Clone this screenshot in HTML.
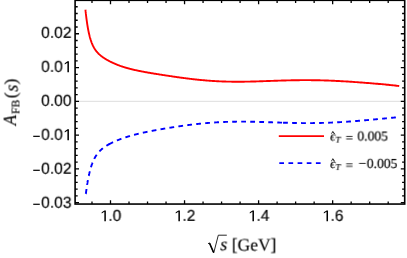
<!DOCTYPE html>
<html><head><meta charset="utf-8"><style>
html,body{margin:0;padding:0;background:#fff;}
svg{display:block}
text{will-change:transform;text-rendering:geometricPrecision}
.tk text{font-family:"Liberation Sans",sans-serif;font-size:15.4px;fill:#000;stroke:#000;stroke-width:0.18px}
.sf{font-family:"Liberation Serif",serif;fill:#000;stroke:#000;stroke-width:0.15px}
</style></head><body>
<svg width="407" height="258" viewBox="0 0 407 258">
<rect width="407" height="258" fill="#fff"/>
<line x1="75.1" x2="404.7" y1="101.34" y2="101.34" stroke="#d0d0d0" stroke-width="0.7"/>
<path d="M85.45 9.83 L85.45 9.84 L85.45 9.85 L85.45 9.87 L85.46 9.91 L85.46 9.96 L85.47 10.02 L85.48 10.09 L85.49 10.18 L85.50 10.28 L85.51 10.39 L85.52 10.52 L85.54 10.66 L85.55 10.82 L85.57 10.99 L85.59 11.18 L85.61 11.38 L85.64 11.60 L85.66 11.83 L85.69 12.08 L85.71 12.34 L85.74 12.61 L85.78 12.90 L85.81 13.20 L85.85 13.52 L85.88 13.85 L85.92 14.19 L85.96 14.54 L86.01 14.91 L86.05 15.29 L86.10 15.68 L86.14 16.09 L86.19 16.50 L86.25 16.93 L86.30 17.36 L86.36 17.81 L86.42 18.26 L86.48 18.73 L86.54 19.20 L86.60 19.68 L86.67 20.17 L86.73 20.67 L86.80 21.17 L86.88 21.68 L86.95 22.19 L87.03 22.72 L87.11 23.24 L87.19 23.77 L87.27 24.31 L87.35 24.84 L87.44 25.38 L87.53 25.93 L87.62 26.47 L87.71 27.02 L87.81 27.57 L87.90 28.12 L88.00 28.66 L88.10 29.21 L88.21 29.76 L88.31 30.31 L88.42 30.85 L88.53 31.40 L88.64 31.94 L88.76 32.48 L88.87 33.01 L88.99 33.55 L89.11 34.07 L89.24 34.60 L89.36 35.12 L89.49 35.64 L89.62 36.15 L89.75 36.66 L89.89 37.16 L90.02 37.66 L90.16 38.15 L90.30 38.63 L90.45 39.11 L90.59 39.59 L90.74 40.06 L90.89 40.52 L91.04 40.97 L91.20 41.42 L91.35 41.86 L91.51 42.30 L91.68 42.73 L91.84 43.15 L92.01 43.56 L92.18 43.97 L92.35 44.38 L92.52 44.77 L92.70 45.16 L92.87 45.54 L93.05 45.92 L93.24 46.29 L93.42 46.65 L93.61 47.01 L93.80 47.36 L93.99 47.70 L94.19 48.04 L94.39 48.37 L94.59 48.70 L94.79 49.02 L94.99 49.33 L95.20 49.64 L95.41 49.94 L95.62 50.24 L95.84 50.54 L96.05 50.82 L96.27 51.11 L96.49 51.39 L96.72 51.66 L96.94 51.93 L97.17 52.20 L97.40 52.46 L97.64 52.71 L97.88 52.97 L98.11 53.22 L98.36 53.46 L98.60 53.71 L98.85 53.95 L99.09 54.18 L99.35 54.41 L99.60 54.64 L99.86 54.87 L100.12 55.10 L100.38 55.32 L100.64 55.54 L100.91 55.75 L101.18 55.97 L101.45 56.18 L101.72 56.39 L102.00 56.60 L102.28 56.81 L102.56 57.01 L102.84 57.21 L103.13 57.41 L103.42 57.61 L103.71 57.81 L104.01 58.01 L104.30 58.20 L104.60 58.40 L104.91 58.59 L105.21 58.78 L105.52 58.97 L105.83 59.16 L106.14 59.35 L106.46 59.53 L106.77 59.72 L107.09 59.91 L107.42 60.09 L107.74 60.27 L108.07 60.45 L108.40 60.63 L108.74 60.81 L109.07 60.99 L109.41 61.17 L109.75 61.35 L110.10 61.52 L110.44 61.70 L110.79 61.87 L111.14 62.05 L111.50 62.22 L111.86 62.39 L112.22 62.56 L112.58 62.73 L112.94 62.90 L113.31 63.07 L113.68 63.24 L114.06 63.40 L114.43 63.57 L114.81 63.73 L115.19 63.89 L115.57 64.06 L115.96 64.22 L116.35 64.38 L116.74 64.54 L117.14 64.69 L117.54 64.85 L117.94 65.01 L118.34 65.16 L118.74 65.31 L119.15 65.47 L119.56 65.62 L119.98 65.77 L120.39 65.92 L120.81 66.06 L121.23 66.21 L121.66 66.35 L122.09 66.50 L122.52 66.64 L122.95 66.78 L123.38 66.92 L123.82 67.06 L124.26 67.20 L124.71 67.34 L125.15 67.47 L125.60 67.61 L126.06 67.74 L126.51 67.87 L126.97 68.01 L127.43 68.14 L127.89 68.26 L128.36 68.39 L128.83 68.52 L129.30 68.64 L129.77 68.77 L130.25 68.89 L130.73 69.01 L131.21 69.13 L131.70 69.25 L132.19 69.37 L132.68 69.49 L133.17 69.61 L133.67 69.72 L134.17 69.84 L134.67 69.95 L135.17 70.07 L135.68 70.18 L136.19 70.29 L136.71 70.40 L137.22 70.51 L137.74 70.62 L138.26 70.73 L138.79 70.84 L139.32 70.95 L139.85 71.05 L140.38 71.16 L140.92 71.26 L141.45 71.37 L142.00 71.47 L142.54 71.58 L143.09 71.68 L143.64 71.78 L144.19 71.89 L144.75 71.99 L145.31 72.09 L145.87 72.19 L146.43 72.29 L147.00 72.39 L147.57 72.49 L148.14 72.59 L148.72 72.69 L149.30 72.79 L149.88 72.89 L150.47 72.99 L151.05 73.09 L151.64 73.19 L152.24 73.29 L152.83 73.39 L153.43 73.49 L154.04 73.59 L154.64 73.69 L155.25 73.78 L155.86 73.88 L156.47 73.98 L157.09 74.08 L157.71 74.18 L158.33 74.28 L158.96 74.38 L159.58 74.48 L160.22 74.58 L160.85 74.68 L161.49 74.78 L162.13 74.88 L162.77 74.98 L163.42 75.08 L164.06 75.18 L164.72 75.28 L165.37 75.38 L166.03 75.48 L166.69 75.58 L167.35 75.68 L168.02 75.78 L168.69 75.88 L169.36 75.98 L170.04 76.08 L170.71 76.18 L171.39 76.28 L172.08 76.39 L172.77 76.49 L173.46 76.59 L174.15 76.69 L174.84 76.79 L175.54 76.89 L176.25 76.99 L176.95 77.09 L177.66 77.19 L178.37 77.29 L179.08 77.39 L179.80 77.49 L180.52 77.59 L181.24 77.69 L181.97 77.78 L182.70 77.88 L183.43 77.98 L184.16 78.08 L184.90 78.17 L185.64 78.27 L186.38 78.36 L187.13 78.46 L187.88 78.55 L188.63 78.65 L189.39 78.74 L190.15 78.83 L190.91 78.92 L191.67 79.01 L192.44 79.10 L193.21 79.19 L193.99 79.28 L194.76 79.37 L195.54 79.45 L196.33 79.54 L197.11 79.62 L197.90 79.70 L198.69 79.78 L199.49 79.86 L200.28 79.94 L201.09 80.02 L201.89 80.10 L202.70 80.17 L203.51 80.24 L204.32 80.32 L205.14 80.39 L205.96 80.46 L206.78 80.52 L207.60 80.59 L208.43 80.65 L209.26 80.72 L210.10 80.78 L210.94 80.84 L211.78 80.89 L212.62 80.95 L213.47 81.00 L214.32 81.05 L215.17 81.10 L216.03 81.15 L216.88 81.20 L217.75 81.24 L218.61 81.29 L219.48 81.33 L220.35 81.36 L221.23 81.40 L222.10 81.44 L222.98 81.47 L223.87 81.50 L224.75 81.53 L225.64 81.56 L226.54 81.58 L227.43 81.60 L228.33 81.62 L229.23 81.64 L230.14 81.66 L231.05 81.67 L231.96 81.69 L232.87 81.70 L233.79 81.71 L234.71 81.71 L235.64 81.72 L236.56 81.72 L237.49 81.72 L238.43 81.72 L239.36 81.72 L240.30 81.72 L241.25 81.71 L242.19 81.70 L243.14 81.69 L244.09 81.68 L245.05 81.67 L246.01 81.65 L246.97 81.64 L247.93 81.62 L248.90 81.60 L249.87 81.58 L250.84 81.56 L251.82 81.54 L252.80 81.51 L253.79 81.49 L254.77 81.46 L255.76 81.43 L256.75 81.40 L257.75 81.37 L258.75 81.34 L259.75 81.31 L260.76 81.28 L261.77 81.24 L262.78 81.21 L263.79 81.17 L264.81 81.14 L265.83 81.10 L266.86 81.07 L267.88 81.03 L268.91 81.00 L269.95 80.96 L270.99 80.92 L272.03 80.89 L273.07 80.85 L274.12 80.81 L275.16 80.78 L276.22 80.74 L277.27 80.70 L278.33 80.67 L279.40 80.63 L280.46 80.60 L281.53 80.57 L282.60 80.53 L283.68 80.50 L284.76 80.47 L285.84 80.44 L286.92 80.41 L288.01 80.38 L289.10 80.36 L290.20 80.33 L291.29 80.31 L292.39 80.29 L293.50 80.27 L294.61 80.25 L295.72 80.23 L296.83 80.21 L297.95 80.20 L299.07 80.18 L300.19 80.17 L301.32 80.16 L302.45 80.16 L303.58 80.15 L304.71 80.15 L305.85 80.15 L307.00 80.15 L308.14 80.15 L309.29 80.16 L310.44 80.17 L311.60 80.18 L312.76 80.19 L313.92 80.20 L315.08 80.22 L316.25 80.24 L317.42 80.26 L318.60 80.29 L319.78 80.31 L320.96 80.34 L322.14 80.38 L323.33 80.41 L324.52 80.45 L325.72 80.49 L326.91 80.53 L328.11 80.57 L329.32 80.62 L330.53 80.66 L331.74 80.72 L332.95 80.77 L334.17 80.82 L335.39 80.88 L336.61 80.94 L337.84 81.00 L339.07 81.07 L340.30 81.13 L341.54 81.20 L342.78 81.27 L344.02 81.35 L345.27 81.42 L346.52 81.50 L347.77 81.57 L349.03 81.65 L350.28 81.74 L351.55 81.82 L352.81 81.91 L354.08 81.99 L355.36 82.08 L356.63 82.17 L357.91 82.26 L359.19 82.36 L360.48 82.45 L361.77 82.55 L363.06 82.64 L364.36 82.74 L365.65 82.84 L366.96 82.94 L368.26 83.05 L369.57 83.15 L370.88 83.26 L372.20 83.37 L373.52 83.48 L374.84 83.59 L376.16 83.70 L377.49 83.81 L378.82 83.93 L380.16 84.05 L381.50 84.17 L382.84 84.29 L384.19 84.42 L385.53 84.54 L386.89 84.68 L388.24 84.81 L389.60 84.95 L390.96 85.09 L392.33 85.23 L393.69 85.38 L395.07 85.54 L396.44 85.70 L397.82 85.86 L399.20 86.04" fill="none" stroke="#f00" stroke-width="1.9" stroke-linejoin="round"/>
<path d="M85.86 193.76 L85.86 193.76 L85.86 193.76 L85.86 193.76 L85.86 193.75 L85.86 193.75 L85.86 193.75 L85.86 193.74 L85.86 193.73 L85.86 193.73 L85.87 193.72 L85.87 193.71 L85.87 193.70 L85.87 193.69 L85.87 193.67 L85.87 193.66 L85.87 193.65 L85.88 193.63 L85.88 193.61 L85.88 193.59 L85.88 193.57 L85.89 193.55 L85.89 193.53 L85.89 193.51 L85.90 193.48 L85.90 193.46 L85.90 193.43 L85.91 193.40 L85.91 193.37 L85.91 193.34 L85.92 193.31 L85.92 193.27 L85.93 193.24 L85.93 193.20 L85.94 193.16 L85.94 193.12 L85.95 193.08 L85.95 193.04 L85.96 193.00 L85.96 192.95 L85.97 192.91 L85.97 192.86 L85.98 192.81 L85.99 192.76 L85.99 192.71 L86.00 192.66 L86.01 192.61 L86.01 192.55 L86.02 192.50 L86.03 192.44 L86.04 192.38 L86.04 192.32 L86.05 192.26 L86.06 192.19 L86.07 192.13 L86.08 192.06 L86.09 192.00 L86.10 191.93 L86.10 191.86 L86.11 191.79 L86.12 191.71 L86.13 191.64 L86.14 191.56 L86.15 191.49 L86.16 191.41 L86.17 191.33 L86.18 191.25 L86.20 191.17 L86.21 191.08 L86.22 191.00 L86.23 190.91 L86.24 190.83 L86.25 190.74 L86.27 190.65 L86.28 190.56 L86.29 190.47 L86.30 190.37 L86.32 190.28 L86.33 190.18 L86.34 190.09 L86.36 189.99 L86.37 189.89 L86.38 189.79 L86.40 189.68 L86.41 189.58 L86.43 189.48 L86.44 189.37 L86.46 189.26 L86.47 189.16 L86.49 189.05 L86.50 188.94 L86.52 188.82 L86.53 188.71 L86.55 188.60 L86.57 188.48 L86.58 188.37 L86.60 188.25 L86.62 188.13 L86.64 188.01 L86.65 187.89 L86.67 187.77 L86.69 187.65 L86.71 187.52 L86.73 187.40 L86.74 187.27 L86.76 187.15 L86.78 187.02 L86.80 186.89 L86.82 186.76 L86.84 186.63 L86.86 186.50 L86.88 186.36 L86.90 186.23 L86.92 186.10 L86.94 185.96 L86.96 185.82 L86.98 185.69 L87.01 185.55 L87.03 185.41 L87.05 185.27 L87.07 185.13 L87.09 184.99 L87.12 184.84 L87.14 184.70 L87.16 184.56 L87.18 184.41 L87.21 184.27 L87.23 184.12 L87.26 183.97 L87.28 183.83 L87.30 183.68 L87.33 183.53 L87.35 183.38 L87.38 183.23 L87.40 183.07 L87.43 182.92 L87.45 182.77 L87.48 182.62 L87.51 182.46 L87.53 182.31 L87.56 182.15 L87.59 182.00 L87.61 181.84 L87.64 181.68 L87.67 181.53 L87.70 181.37 L87.72 181.21 L87.75 181.05 L87.78 180.89 L87.81 180.73 L87.84 180.57 L87.87 180.41 L87.90 180.25 L87.93 180.09 L87.96 179.92 L87.99 179.76 L88.02 179.60 L88.05 179.44 L88.08 179.27 L88.11 179.11 L88.14 178.94 L88.17 178.78 L88.20 178.61 L88.23 178.45 L88.27 178.28 L88.30 178.12 L88.33 177.95 L88.37 177.78 L88.40 177.62 L88.43 177.45 L88.47 177.28 L88.50 177.12 L88.53 176.95 L88.57 176.78 L88.60 176.61 L88.64 176.45 L88.67 176.28 L88.71 176.11 L88.74 175.94 L88.78 175.77 L88.81 175.61 L88.85 175.44 L88.89 175.27 L88.92 175.10 L88.96 174.93 L89.00 174.76 L89.04 174.59 L89.07 174.43 L89.11 174.26 L89.15 174.09 L89.19 173.92 L89.23 173.75 L89.26 173.58 L89.30 173.42 L89.34 173.25 L89.38 173.08 L89.42 172.91 L89.46 172.74 L89.50 172.58 L89.54 172.41 L89.58 172.24 L89.63 172.07 L89.67 171.91 L89.71 171.74 L89.75 171.57 L89.79 171.41 L89.84 171.24 L89.88 171.08 L89.92 170.91 L89.96 170.74 L90.01 170.58 L90.05 170.41 L90.09 170.25 L90.14 170.09 L90.18 169.92 L90.23 169.76 L90.27 169.59 L90.32 169.43 L90.36 169.27 L90.41 169.10 L90.45 168.94 L90.50 168.78 L90.55 168.62 L90.59 168.46 L90.64 168.30 L90.69 168.14 L90.73 167.98 L90.78 167.82 L90.83 167.66 L90.88 167.50 L90.93 167.34 L90.97 167.18 L91.02 167.02 L91.07 166.87 L91.12 166.71 L91.17 166.55 L91.22 166.40 L91.27 166.24 L91.32 166.09 L91.37 165.93 L91.42 165.78 L91.47 165.63 L91.53 165.47 L91.58 165.32 L91.63 165.17 L91.68 165.02 L91.73 164.87 L91.79 164.72 L91.84 164.57 L91.89 164.42 L91.95 164.27 L92.00 164.12 L92.05 163.97 L92.11 163.82 L92.16 163.68 L92.22 163.53 L92.27 163.39 L92.33 163.24 L92.38 163.10 L92.44 162.95 L92.49 162.81 L92.55 162.67 L92.61 162.52 L92.66 162.38 L92.72 162.24 L92.78 162.10 L92.84 161.96 L92.89 161.82 L92.95 161.68 L93.01 161.54 L93.07 161.41 L93.13 161.27 L93.19 161.13 L93.25 161.00 L93.31 160.86 L93.37 160.73 L93.43 160.59 L93.49 160.46 L93.55 160.33 L93.61 160.19 L93.67 160.06 L93.73 159.93 L93.79 159.80 L93.85 159.67 L93.92 159.54 L93.98 159.41 L94.04 159.28 L94.10 159.16 L94.17 159.03 L94.23 158.90 L94.30 158.78 L94.36 158.65 L94.42 158.53 L94.49 158.41 L94.55 158.28 L94.62 158.16 L94.68 158.04 L94.75 157.92 L94.82 157.79 L94.88 157.67 L94.95 157.55 L95.02 157.44 L95.08 157.32 L95.15 157.20 L95.22 157.08 L95.29 156.97 L95.35 156.85 L95.42 156.73 L95.49 156.62 L95.56 156.50 L95.63 156.39 L95.70 156.28 L95.77 156.17 L95.84 156.05 L95.91 155.94 L95.98 155.83 L96.05 155.72 L96.12 155.61 L96.19 155.50 L96.26 155.39 L96.34 155.29 L96.41 155.18 L96.48 155.07 L96.55 154.96 L96.63 154.86 L96.70 154.75 L96.77 154.65 L96.85 154.54 L96.92 154.44 L96.99 154.34 L97.07 154.23 L97.14 154.13 L97.22 154.03 L97.29 153.93 L97.37 153.83 L97.45 153.73 L97.52 153.63 L97.60 153.53 L97.68 153.43 L97.75 153.34 L97.83 153.24 L97.91 153.14 L97.99 153.04 L98.06 152.95 L98.14 152.85 L98.22 152.76 L98.30 152.66 L98.38 152.57 L98.46 152.48 L98.54 152.38 L98.62 152.29 L98.70 152.20 L98.78 152.11 L98.86 152.02 L98.94 151.93 L99.02 151.83 L99.10 151.75 L99.19 151.66 L99.27 151.57 L99.35 151.48 L99.43 151.39 L99.52 151.30 L99.60 151.22 L99.68 151.13 L99.77 151.04 L99.85 150.96 L99.94 150.87 L100.02 150.79 L100.11 150.70 L100.19 150.62 L100.28 150.53 L100.36 150.45 L100.45 150.37 L100.54 150.28 L100.62 150.20 L100.71 150.12 L100.80 150.04 L100.88 149.96 L100.97 149.88 L101.06 149.79 L101.15 149.71 L101.24 149.63 L101.33 149.56 L101.42 149.48 L101.50 149.40 L101.59 149.32 L101.68 149.24 L101.77 149.16 L101.87 149.09 L101.96 149.01 L102.05 148.93 L102.14 148.86 L102.23 148.78 L102.32 148.70 L102.41 148.63 L102.51 148.55 L102.60 148.48 L102.69 148.40 L102.79 148.33 L102.88 148.26 L102.97 148.18 L103.07 148.11 L103.16 148.04 L103.26 147.96 L103.35 147.89 L103.45 147.82 L103.54 147.75 L103.64 147.67 L103.74 147.60 L103.83 147.53 L103.93 147.46 L104.03 147.39 L104.12 147.32 L104.22 147.25 L104.32 147.18 L104.42 147.11 L104.52 147.04 L104.62 146.97 L104.71 146.90 L104.81 146.83 L104.91 146.77 L105.01 146.70 L105.11 146.63 L105.21 146.56 L105.32 146.49 L105.42 146.43 L105.52 146.36 L105.62 146.29 L105.72 146.23 L105.82 146.16 L105.93 146.09 L106.03 146.03 L106.13 145.96 L106.24 145.90 L106.34 145.83 L106.44 145.76 L106.55 145.70 L106.65 145.63 L106.76 145.57 L106.86 145.51 L106.97 145.44 L107.07 145.38 L107.18 145.31 L107.29 145.25 L107.39 145.19 L107.50 145.12 L107.61 145.06 L107.71 145.00 L107.82 144.93 L107.93 144.87 L108.04 144.81 L108.15 144.74 L108.25 144.68 L108.36 144.62 L108.47 144.56 L108.58 144.50 L108.69 144.43 L108.80 144.37 L108.91 144.31 L109.02 144.25 L109.14 144.19 L109.25 144.13 L109.36 144.07 L109.47 144.01" fill="none" stroke="#00f" stroke-width="1.9" stroke-dasharray="4.8 4.22"/>
<path d="M108.80 144.37 L108.91 144.31 L109.02 144.25 L109.14 144.19 L109.25 144.13 L109.36 144.07 L109.47 144.01 L109.58 143.95 L109.70 143.89 L109.81 143.82 L109.92 143.76 L110.04 143.70 L110.15 143.64 L110.26 143.58 L110.38 143.53 L110.49 143.47 L110.61 143.41 L110.72 143.35 L110.84 143.29 L110.95 143.23 L111.07 143.17 L111.19 143.11 L111.30 143.05 L111.42 142.99 L111.54 142.94 L111.66 142.88 L111.77 142.82 L111.89 142.76 L112.01 142.70 L112.13 142.65 L112.25 142.59 L112.37 142.53 L112.49 142.47 L112.61 142.42 L112.73 142.36 L112.85 142.30 L112.97 142.24 L113.09 142.19 L113.21 142.13 L113.33 142.07 L113.45 142.02 L113.58 141.96 L113.70 141.90 L113.82 141.85 L113.95 141.79 L114.07 141.74 L114.19 141.68 L114.32 141.62 L114.44 141.57 L114.57 141.51 L114.69 141.46 L114.82 141.40 L114.94 141.35 L115.07 141.29 L115.19 141.23 L115.32 141.18 L115.45 141.12 L115.57 141.07 L115.70 141.01 L115.83 140.96 L115.96 140.91 L116.08 140.85 L116.21 140.80 L116.34 140.74 L116.47 140.69 L116.60 140.63 L116.73 140.58 L116.86 140.53 L116.99 140.47 L117.12 140.42 L117.25 140.36 L117.38 140.31 L117.51 140.26 L117.65 140.20 L117.78 140.15 L117.91 140.10 L118.04 140.04 L118.18 139.99 L118.31 139.94 L118.44 139.89 L118.58 139.83 L118.71 139.78 L118.85 139.73 L118.98 139.68 L119.12 139.62 L119.25 139.57 L119.39 139.52 L119.52 139.47 L119.66 139.41 L119.80 139.36 L119.93 139.31 L120.07 139.26 L120.21 139.21 L120.35 139.16 L120.48 139.10 L120.62 139.05 L120.76 139.00 L120.90 138.95 L121.04 138.90 L121.18 138.85 L121.32 138.80 L121.46 138.75 L121.60 138.70 L121.74 138.64 L121.88 138.59 L122.02 138.54 L122.16 138.49 L122.31 138.44 L122.45 138.39 L122.59 138.34 L122.73 138.29 L122.88 138.24 L123.02 138.19 L123.16 138.14 L123.31 138.09 L123.45 138.04 L123.60 137.99 L123.74 137.94 L123.89 137.90 L124.03 137.85 L124.18 137.80 L124.33 137.75 L124.47 137.70 L124.62 137.65 L124.77 137.60 L124.91 137.55 L125.06 137.50 L125.21 137.46 L125.36 137.41 L125.51 137.36 L125.66 137.31 L125.81 137.26 L125.95 137.21 L126.10 137.17 L126.26 137.12 L126.41 137.07 L126.56 137.02 L126.71 136.98 L126.86 136.93 L127.01 136.88 L127.16 136.83 L127.32 136.79 L127.47 136.74 L127.62 136.69 L127.77 136.64 L127.93 136.60 L128.08 136.55 L128.24 136.50 L128.39 136.46 L128.55 136.41 L128.70 136.36 L128.86 136.32 L129.01 136.27 L129.17 136.23 L129.32 136.18 L129.48 136.13 L129.64 136.09 L129.79 136.04 L129.95 136.00 L130.11 135.95 L130.27 135.90 L130.43 135.86 L130.59 135.81 L130.74 135.77 L130.90 135.72 L131.06 135.68 L131.22 135.63 L131.38 135.59 L131.54 135.54 L131.71 135.50 L131.87 135.45 L132.03 135.41 L132.19 135.36 L132.35 135.32 L132.52 135.28 L132.68 135.23 L132.84 135.19 L133.00 135.14 L133.17 135.10 L133.33 135.05 L133.50 135.01 L133.66 134.97 L133.83 134.92 L133.99 134.88 L134.16 134.84 L134.32 134.79 L134.49 134.75 L134.66 134.71 L134.82 134.66 L134.99 134.62 L135.16 134.58 L135.33 134.53 L135.49 134.49 L135.66 134.45 L135.83 134.40 L136.00 134.36 L136.17 134.32 L136.34 134.28 L136.51 134.23 L136.68 134.19 L136.85 134.15 L137.02 134.11 L137.19 134.07 L137.36 134.02 L137.53 133.98 L137.71 133.94 L137.88 133.90 L138.05 133.86 L138.23 133.81 L138.40 133.77 L138.57 133.73 L138.75 133.69 L138.92 133.65 L139.10 133.61 L139.27 133.56 L139.45 133.52 L139.62 133.48 L139.80 133.44 L139.97 133.40 L140.15 133.36 L140.33 133.32 L140.50 133.28 L140.68 133.24 L140.86 133.20 L141.04 133.15 L141.22 133.11 L141.39 133.07 L141.57 133.03 L141.75 132.99 L141.93 132.95 L142.11 132.91 L142.29 132.87 L142.47 132.83 L142.65 132.79 L142.84 132.75 L143.02 132.71 L143.20 132.67 L143.38 132.63 L143.56 132.59 L143.75 132.55 L143.93 132.51 L144.11 132.47 L144.30 132.43 L144.48 132.39 L144.67 132.35 L144.85 132.31 L145.03 132.27 L145.22 132.23 L145.41 132.20 L145.59 132.16 L145.78 132.12 L145.96 132.08 L146.15 132.04 L146.34 132.00 L146.53 131.96 L146.71 131.92 L146.90 131.88 L147.09 131.84 L147.28 131.80 L147.47 131.77 L147.66 131.73 L147.85 131.69 L148.04 131.65 L148.23 131.61 L148.42 131.57 L148.61 131.53 L148.80 131.50 L148.99 131.46 L149.19 131.42 L149.38 131.38 L149.57 131.34 L149.76 131.30 L149.96 131.26 L150.15 131.23 L150.34 131.19 L150.54 131.15 L150.73 131.11 L150.93 131.07 L151.12 131.04 L151.32 131.00 L151.51 130.96 L151.71 130.92 L151.91 130.88 L152.10 130.85 L152.30 130.81 L152.50 130.77 L152.70 130.73 L152.89 130.69 L153.09 130.66 L153.29 130.62 L153.49 130.58 L153.69 130.54 L153.89 130.51 L154.09 130.47 L154.29 130.43 L154.49 130.39 L154.69 130.36 L154.89 130.32 L155.09 130.28 L155.30 130.24 L155.50 130.21 L155.70 130.17 L155.90 130.13 L156.11 130.09 L156.31 130.06 L156.51 130.02 L156.72 129.98 L156.92 129.94 L157.13 129.91 L157.33 129.87 L157.54 129.83 L157.74 129.80 L157.95 129.76 L158.16 129.72 L158.36 129.68 L158.57 129.65 L158.78 129.61 L158.99 129.57 L159.19 129.54 L159.40 129.50 L159.61 129.46 L159.82 129.43 L160.03 129.39 L160.24 129.35 L160.45 129.31 L160.66 129.28 L160.87 129.24 L161.08 129.20 L161.29 129.17 L161.50 129.13 L161.71 129.09 L161.93 129.06 L162.14 129.02 L162.35 128.98 L162.57 128.95 L162.78 128.91 L162.99 128.87 L163.21 128.84 L163.42 128.80 L163.64 128.76 L163.85 128.73 L164.07 128.69 L164.28 128.65 L164.50 128.62 L164.71 128.58 L164.93 128.54 L165.15 128.51 L165.37 128.47 L165.58 128.43 L165.80 128.40 L166.02 128.36 L166.24 128.33 L166.46 128.29 L166.68 128.25 L166.90 128.22 L167.12 128.18 L167.34 128.14 L167.56 128.11 L167.78 128.07 L168.00 128.04 L168.22 128.00 L168.44 127.96 L168.67 127.93 L168.89 127.89 L169.11 127.86 L169.33 127.82 L169.56 127.78 L169.78 127.75 L170.01 127.71 L170.23 127.68 L170.46 127.64 L170.68 127.60 L170.91 127.57 L171.13 127.53 L171.36 127.50 L171.59 127.46 L171.81 127.42 L172.04 127.39 L172.27 127.35 L172.49 127.32 L172.72 127.28 L172.95 127.25 L173.18 127.21 L173.41 127.17 L173.64 127.14 L173.87 127.10 L174.10 127.07 L174.33 127.03 L174.56 127.00 L174.79 126.96 L175.02 126.93 L175.25 126.89 L175.49 126.86 L175.72 126.82 L175.95 126.79 L176.18 126.75 L176.42 126.72 L176.65 126.68 L176.89 126.65 L177.12 126.61 L177.35 126.58 L177.59 126.54 L177.82 126.51 L178.06 126.47 L178.30 126.44 L178.53 126.40 L178.77 126.37 L179.01 126.33 L179.24 126.30 L179.48 126.26 L179.72 126.23 L179.96 126.19 L180.20 126.16 L180.44 126.13 L180.67 126.09 L180.91 126.06 L181.15 126.02 L181.39 125.99 L181.64 125.95 L181.88 125.92 L182.12 125.89 L182.36 125.85 L182.60 125.82 L182.84 125.78 L183.09 125.75 L183.33 125.72 L183.57 125.68 L183.82 125.65 L184.06 125.62 L184.30 125.58 L184.55 125.55 L184.79 125.52 L185.04 125.48 L185.28 125.45 L185.53 125.42 L185.78 125.38 L186.02 125.35 L186.27 125.32 L186.52 125.29 L186.77 125.25 L187.01 125.22 L187.26 125.19 L187.51 125.16 L187.76 125.12 L188.01 125.09 L188.26 125.06 L188.51 125.03 L188.76 124.99 L189.01 124.96 L189.26 124.93 L189.51 124.90 L189.76 124.87 L190.01 124.84 L190.27 124.80 L190.52 124.77 L190.77 124.74 L191.03 124.71 L191.28 124.68 L191.53 124.65 L191.79 124.62 L192.04 124.59 L192.30 124.56 L192.55 124.52 L192.81 124.49 L193.06 124.46 L193.32 124.43 L193.58 124.40 L193.83 124.37 L194.09 124.34 L194.35 124.31 L194.61 124.28 L194.86 124.25 L195.12 124.22 L195.38 124.19 L195.64 124.17 L195.90 124.14 L196.16 124.11 L196.42 124.08 L196.68 124.05 L196.94 124.02 L197.20 123.99 L197.46 123.96 L197.73 123.93 L197.99 123.91 L198.25 123.88 L198.51 123.85 L198.78 123.82 L199.04 123.79 L199.31 123.77 L199.57 123.74 L199.83 123.71 L200.10 123.69 L200.36 123.66 L200.63 123.63 L200.90 123.60 L201.16 123.58 L201.43 123.55 L201.70 123.52 L201.96 123.50 L202.23 123.47 L202.50 123.45 L202.77 123.42 L203.04 123.40 L203.30 123.37 L203.57 123.34 L203.84 123.32 L204.11 123.29 L204.38 123.27 L204.65 123.24 L204.93 123.22 L205.20 123.20 L205.47 123.17 L205.74 123.15 L206.01 123.12 L206.29 123.10 L206.56 123.08 L206.83 123.05 L207.11 123.03 L207.38 123.01 L207.65 122.98 L207.93 122.96 L208.20 122.94 L208.48 122.92 L208.75 122.89 L209.03 122.87 L209.31 122.85 L209.58 122.83 L209.86 122.81 L210.14 122.78 L210.42 122.76 L210.69 122.74 L210.97 122.72 L211.25 122.70 L211.53 122.68 L211.81 122.66 L212.09 122.64 L212.37 122.62 L212.65 122.60 L212.93 122.58 L213.21 122.56 L213.49 122.54 L213.78 122.52 L214.06 122.50 L214.34 122.49 L214.62 122.47 L214.91 122.45 L215.19 122.43 L215.47 122.41 L215.76 122.39 L216.04 122.38 L216.33 122.36 L216.61 122.34 L216.90 122.33 L217.18 122.31 L217.47 122.29 L217.76 122.28 L218.04 122.26 L218.33 122.24 L218.62 122.23 L218.91 122.21 L219.19 122.20 L219.48 122.18 L219.77 122.17 L220.06 122.15 L220.35 122.14 L220.64 122.12 L220.93 122.11 L221.22 122.10 L221.51 122.08 L221.80 122.07 L222.10 122.06 L222.39 122.04 L222.68 122.03 L222.97 122.02 L223.27 122.01 L223.56 121.99 L223.85 121.98 L224.15 121.97 L224.44 121.96 L224.74 121.95 L225.03 121.94 L225.33 121.92 L225.62 121.91 L225.92 121.90 L226.21 121.89 L226.51 121.88 L226.81 121.87 L227.11 121.86 L227.40 121.85 L227.70 121.84 L228.00 121.84 L228.30 121.83 L228.60 121.82 L228.90 121.81 L229.20 121.80 L229.50 121.79 L229.80 121.79 L230.10 121.78 L230.40 121.77 L230.70 121.76 L231.00 121.76 L231.31 121.75 L231.61 121.74 L231.91 121.74 L232.22 121.73 L232.52 121.73 L232.82 121.72 L233.13 121.72 L233.43 121.71 L233.74 121.70 L234.04 121.70 L234.35 121.70 L234.65 121.69 L234.96 121.69 L235.27 121.68 L235.57 121.68 L235.88 121.68 L236.19 121.67 L236.50 121.67 L236.81 121.67 L237.12 121.66 L237.42 121.66 L237.73 121.66 L238.04 121.66 L238.35 121.66 L238.66 121.65 L238.98 121.65 L239.29 121.65 L239.60 121.65 L239.91 121.65 L240.22 121.65 L240.53 121.65 L240.85 121.65 L241.16 121.65 L241.47 121.65 L241.79 121.65 L242.10 121.65 L242.42 121.65 L242.73 121.65 L243.05 121.65 L243.36 121.65 L243.68 121.65 L244.00 121.66 L244.31 121.66 L244.63 121.66 L244.95 121.66 L245.27 121.66 L245.58 121.67 L245.90 121.67 L246.22 121.67 L246.54 121.68 L246.86 121.68 L247.18 121.68 L247.50 121.69 L247.82 121.69 L248.14 121.69 L248.46 121.70 L248.78 121.70 L249.11 121.71 L249.43 121.71 L249.75 121.72 L250.07 121.72 L250.40 121.73 L250.72 121.73 L251.04 121.74 L251.37 121.74 L251.69 121.75 L252.02 121.75 L252.34 121.76 L252.67 121.77 L253.00 121.77 L253.32 121.78 L253.65 121.79 L253.98 121.79 L254.30 121.80 L254.63 121.81 L254.96 121.82 L255.29 121.82 L255.62 121.83 L255.95 121.84 L256.28 121.85 L256.61 121.85 L256.94 121.86 L257.27 121.87 L257.60 121.88 L257.93 121.89 L258.26 121.90 L258.59 121.90 L258.92 121.91 L259.26 121.92 L259.59 121.93 L259.92 121.94 L260.26 121.95 L260.59 121.96 L260.93 121.97 L261.26 121.98 L261.60 121.99 L261.93 122.00 L262.27 122.01 L262.60 122.02 L262.94 122.03 L263.28 122.04 L263.61 122.05 L263.95 122.06 L264.29 122.07 L264.63 122.08 L264.97 122.09 L265.31 122.10 L265.64 122.11 L265.98 122.12 L266.32 122.13 L266.67 122.14 L267.01 122.15 L267.35 122.16 L267.69 122.18 L268.03 122.19 L268.37 122.20 L268.71 122.21 L269.06 122.22 L269.40 122.23 L269.74 122.24 L270.09 122.25 L270.43 122.27 L270.78 122.28 L271.12 122.29 L271.47 122.30 L271.81 122.31 L272.16 122.32 L272.51 122.33 L272.85 122.35 L273.20 122.36 L273.55 122.37 L273.89 122.38 L274.24 122.39 L274.59 122.40 L274.94 122.42 L275.29 122.43 L275.64 122.44 L275.99 122.45 L276.34 122.46 L276.69 122.47 L277.04 122.49 L277.39 122.50 L277.74 122.51 L278.09 122.52 L278.45 122.53 L278.80 122.54 L279.15 122.55 L279.51 122.57 L279.86 122.58 L280.21 122.59 L280.57 122.60 L280.92 122.61 L281.28 122.62 L281.63 122.63 L281.99 122.64 L282.35 122.65 L282.70 122.67" fill="none" stroke="#00f" stroke-width="1.9" stroke-dasharray="4.8 4.22"/>
<path d="M283.06 122.68 L283.42 122.69 L283.77 122.70 L284.13 122.71 L284.49 122.72 L284.85 122.73 L285.21 122.74 L285.57 122.75 L285.93 122.76 L286.29 122.77 L286.65 122.78 L287.01 122.79 L287.37 122.80 L287.73 122.81 L288.09 122.82 L288.45 122.83 L288.82 122.84 L289.18 122.85 L289.54 122.86 L289.91 122.87 L290.27 122.87 L290.63 122.88 L291.00 122.89 L291.36 122.90 L291.73 122.91 L292.10 122.92 L292.46 122.92 L292.83 122.93 L293.20 122.94 L293.56 122.95 L293.93 122.96 L294.30 122.96 L294.67 122.97 L295.03 122.98 L295.40 122.98 L295.77 122.99 L296.14 123.00 L296.51 123.00 L296.88 123.01 L297.25 123.02 L297.62 123.02 L298.00 123.03 L298.37 123.03 L298.74 123.04 L299.11 123.04 L299.48 123.05 L299.86 123.05 L300.23 123.06 L300.61 123.06 L300.98 123.06 L301.35 123.07 L301.73 123.07 L302.10 123.08 L302.48 123.08 L302.86 123.08 L303.23 123.08 L303.61 123.09 L303.99 123.09 L304.36 123.09 L304.74 123.09 L305.12 123.10 L305.50 123.10 L305.88 123.10 L306.26 123.10 L306.64 123.10 L307.02 123.10 L307.40 123.10 L307.78 123.10 L308.16 123.10 L308.54 123.10 L308.92 123.10 L309.30 123.10 L309.69 123.10 L310.07 123.10 L310.45 123.09 L310.83 123.09 L311.22 123.09 L311.60 123.09 L311.99 123.08 L312.37 123.08 L312.76 123.08 L313.14 123.07 L313.53 123.07 L313.92 123.07 L314.30 123.06 L314.69 123.06 L315.08 123.05 L315.46 123.05 L315.85 123.04 L316.24 123.04 L316.63 123.03 L317.02 123.02 L317.41 123.02 L317.80 123.01 L318.19 123.00 L318.58 122.99 L318.97 122.99 L319.36 122.98 L319.75 122.97 L320.15 122.96 L320.54 122.95 L320.93 122.94 L321.32 122.93 L321.72 122.92 L322.11 122.91 L322.51 122.90 L322.90 122.89 L323.30 122.88 L323.69 122.87 L324.09 122.86 L324.48 122.85 L324.88 122.83 L325.28 122.82 L325.67 122.81 L326.07 122.79 L326.47 122.78 L326.87 122.77 L327.26 122.75 L327.66 122.74 L328.06 122.72 L328.46 122.71 L328.86 122.69 L329.26 122.68 L329.66 122.66 L330.06 122.64 L330.47 122.63 L330.87 122.61 L331.27 122.59 L331.67 122.58 L332.08 122.56 L332.48 122.54 L332.88 122.52 L333.29 122.50 L333.69 122.48 L334.09 122.46 L334.50 122.44 L334.91 122.42 L335.31 122.40 L335.72 122.38 L336.12 122.36 L336.53 122.34 L336.94 122.32 L337.34 122.30 L337.75 122.28 L338.16 122.25 L338.57 122.23 L338.98 122.21 L339.39 122.19 L339.80 122.16 L340.21 122.14 L340.62 122.11 L341.03 122.09 L341.44 122.06 L341.85 122.04 L342.26 122.01 L342.68 121.99 L343.09 121.96 L343.50 121.94 L343.91 121.91 L344.33 121.88 L344.74 121.86 L345.16 121.83 L345.57 121.80 L345.99 121.77 L346.40 121.75 L346.82 121.72 L347.23 121.69 L347.65 121.66 L348.07 121.63 L348.48 121.60 L348.90 121.57 L349.32 121.54 L349.74 121.51 L350.16 121.48 L350.58 121.45 L351.00 121.42 L351.42 121.39 L351.84 121.36 L352.26 121.33 L352.68 121.29 L353.10 121.26 L353.52 121.23 L353.94 121.20 L354.36 121.16 L354.79 121.13 L355.21 121.10 L355.63 121.06 L356.06 121.03 L356.48 121.00 L356.91 120.96 L357.33 120.93 L357.76 120.89 L358.18 120.86 L358.61 120.82 L359.03 120.79 L359.46 120.75 L359.89 120.72 L360.32 120.68 L360.74 120.65 L361.17 120.61 L361.60 120.57 L362.03 120.54 L362.46 120.50 L362.89 120.46 L363.32 120.43 L363.75 120.39 L364.18 120.35 L364.61 120.31 L365.04 120.28 L365.47 120.24 L365.91 120.20 L366.34 120.16 L366.77 120.12 L367.20 120.08 L367.64 120.05 L368.07 120.01 L368.51 119.97 L368.94 119.93 L369.38 119.89 L369.81 119.85 L370.25 119.81 L370.68 119.77 L371.12 119.73 L371.56 119.69 L371.99 119.65 L372.43 119.61 L372.87 119.57 L373.31 119.53 L373.75 119.49 L374.19 119.45 L374.63 119.41 L375.07 119.37 L375.51 119.33 L375.95 119.29 L376.39 119.25 L376.83 119.21 L377.27 119.17 L377.71 119.12 L378.15 119.08 L378.60 119.04 L379.04 119.00 L379.48 118.96 L379.93 118.92 L380.37 118.87 L380.82 118.83 L381.26 118.79 L381.71 118.75 L382.15 118.71 L382.60 118.67 L383.04 118.62 L383.49 118.58 L383.94 118.54 L384.39 118.50 L384.83 118.45 L385.28 118.41 L385.73 118.37 L386.18 118.33 L386.63 118.28 L387.08 118.24 L387.53 118.20 L387.98 118.16 L388.43 118.11 L388.88 118.07 L389.33 118.03 L389.78 117.98 L390.24 117.94 L390.69 117.90 L391.14 117.85 L391.60 117.81 L392.05 117.77 L392.50 117.72 L392.96 117.68 L393.41 117.64 L393.87 117.59 L394.32 117.55 L394.78 117.50 L395.24 117.46 L395.69 117.42 L396.15 117.37 L396.61 117.33 L397.07 117.28 L397.52 117.24 L397.98 117.19 L398.44 117.15 L398.90 117.10" fill="none" stroke="#00f" stroke-width="1.9" stroke-dasharray="4.8 4.22"/>
<rect x="75.1" y="0.3" width="329.60" height="203.75" fill="none" stroke="#000" stroke-width="1.6"/>
<path d="M91.99 204.05 v-2.60 M91.99 0.30 v2.60 M110.50 204.05 v-3.90 M110.50 0.30 v3.90 M129.01 204.05 v-2.60 M129.01 0.30 v2.60 M147.53 204.05 v-2.60 M147.53 0.30 v2.60 M166.04 204.05 v-2.60 M166.04 0.30 v2.60 M184.55 204.05 v-3.90 M184.55 0.30 v3.90 M203.06 204.05 v-2.60 M203.06 0.30 v2.60 M221.58 204.05 v-2.60 M221.58 0.30 v2.60 M240.09 204.05 v-2.60 M240.09 0.30 v2.60 M258.60 204.05 v-3.90 M258.60 0.30 v3.90 M277.11 204.05 v-2.60 M277.11 0.30 v2.60 M295.62 204.05 v-2.60 M295.62 0.30 v2.60 M314.14 204.05 v-2.60 M314.14 0.30 v2.60 M332.65 204.05 v-3.90 M332.65 0.30 v3.90 M351.16 204.05 v-2.60 M351.16 0.30 v2.60 M369.67 204.05 v-2.60 M369.67 0.30 v2.60 M388.19 204.05 v-2.60 M388.19 0.30 v2.60 M75.10 202.71 h3.90 M404.70 202.71 h-3.90 M75.10 195.95 h2.60 M404.70 195.95 h-2.60 M75.10 189.19 h2.60 M404.70 189.19 h-2.60 M75.10 182.44 h2.60 M404.70 182.44 h-2.60 M75.10 175.68 h2.60 M404.70 175.68 h-2.60 M75.10 168.92 h3.90 M404.70 168.92 h-3.90 M75.10 162.16 h2.60 M404.70 162.16 h-2.60 M75.10 155.40 h2.60 M404.70 155.40 h-2.60 M75.10 148.65 h2.60 M404.70 148.65 h-2.60 M75.10 141.89 h2.60 M404.70 141.89 h-2.60 M75.10 135.13 h3.90 M404.70 135.13 h-3.90 M75.10 128.37 h2.60 M404.70 128.37 h-2.60 M75.10 121.61 h2.60 M404.70 121.61 h-2.60 M75.10 114.86 h2.60 M404.70 114.86 h-2.60 M75.10 108.10 h2.60 M404.70 108.10 h-2.60 M75.10 101.34 h3.90 M404.70 101.34 h-3.90 M75.10 94.58 h2.60 M404.70 94.58 h-2.60 M75.10 87.82 h2.60 M404.70 87.82 h-2.60 M75.10 81.07 h2.60 M404.70 81.07 h-2.60 M75.10 74.31 h2.60 M404.70 74.31 h-2.60 M75.10 67.55 h3.90 M404.70 67.55 h-3.90 M75.10 60.79 h2.60 M404.70 60.79 h-2.60 M75.10 54.03 h2.60 M404.70 54.03 h-2.60 M75.10 47.28 h2.60 M404.70 47.28 h-2.60 M75.10 40.52 h2.60 M404.70 40.52 h-2.60 M75.10 33.76 h3.90 M404.70 33.76 h-3.90 M75.10 27.00 h2.60 M404.70 27.00 h-2.60 M75.10 20.24 h2.60 M404.70 20.24 h-2.60 M75.10 13.49 h2.60 M404.70 13.49 h-2.60 M75.10 6.73 h2.60 M404.70 6.73 h-2.60" stroke="#000" stroke-width="1.3" fill="none"/>
<g class="tk">
<text transform="translate(71.50 38.30) rotate(0.03) scale(1.010 1.030)" text-anchor="end">0.02</text>
<path transform="translate(62.85 72.27) scale(0.00759 -0.00775)" d="M600 0 L600 1237 L250 1002 L250 1172 L615 1409 L800 1409 L800 0 Z" fill="#000"/>
<text transform="translate(62.85 72.27) rotate(0.03) scale(1.010 1.030)" text-anchor="end">0.0</text>
<text transform="translate(71.50 106.25) rotate(0.03) scale(1.010 1.030)" text-anchor="end">0.00</text>
<path transform="translate(62.85 140.23) scale(0.00759 -0.00775)" d="M600 0 L600 1237 L250 1002 L250 1172 L615 1409 L800 1409 L800 0 Z" fill="#000"/>
<text transform="translate(62.85 140.23) rotate(0.03) scale(1.010 1.030)" text-anchor="end">0.0</text>
<path d="M33.23 136.33 H39.78" stroke="#000" stroke-width="1.2" fill="none"/>
<text transform="translate(71.50 174.20) rotate(0.03) scale(1.010 1.030)" text-anchor="end">0.02</text>
<path d="M33.23 170.30 H39.78" stroke="#000" stroke-width="1.2" fill="none"/>
<text transform="translate(71.50 208.18) rotate(0.03) scale(1.010 1.030)" text-anchor="end">0.03</text>
<path d="M33.23 204.28 H39.78" stroke="#000" stroke-width="1.2" fill="none"/>
<path transform="translate(99.79 221.30) scale(0.00759 -0.00775)" d="M600 0 L600 1237 L250 1002 L250 1172 L615 1409 L800 1409 L800 0 Z" fill="#000"/>
<text transform="translate(108.44 221.30) rotate(0.03) scale(1.010 1.030)" text-anchor="start">.0</text>
<path transform="translate(173.84 221.30) scale(0.00759 -0.00775)" d="M600 0 L600 1237 L250 1002 L250 1172 L615 1409 L800 1409 L800 0 Z" fill="#000"/>
<text transform="translate(182.49 221.30) rotate(0.03) scale(1.010 1.030)" text-anchor="start">.2</text>
<path transform="translate(247.89 221.30) scale(0.00759 -0.00775)" d="M600 0 L600 1237 L250 1002 L250 1172 L615 1409 L800 1409 L800 0 Z" fill="#000"/>
<text transform="translate(256.54 221.30) rotate(0.03) scale(1.010 1.030)" text-anchor="start">.4</text>
<path transform="translate(321.94 221.30) scale(0.00759 -0.00775)" d="M600 0 L600 1237 L250 1002 L250 1172 L615 1409 L800 1409 L800 0 Z" fill="#000"/>
<text transform="translate(330.59 221.30) rotate(0.03) scale(1.010 1.030)" text-anchor="start">.6</text>
</g>
<!-- legend -->
<line x1="278.8" x2="324" y1="136.1" y2="136.1" stroke="#f00" stroke-width="1.9"/>
<line x1="279.3" x2="324" y1="163.1" y2="163.1" stroke="#00f" stroke-width="1.9" stroke-dasharray="4.7 4.45"/>
<g class="sf" font-size="13">
<text transform="translate(330.1 140.50) rotate(0.03)" font-style="italic">ϵ</text>
<path d="M331.1 133.75 L332.85 130.90 L334.95 133.95 L334.1 134.00 L332.8 132.20 L331.55 133.85 Z" fill="#000"/>
<text transform="translate(335.4 142.70) rotate(0.03)" font-size="9.2" font-style="italic">T</text>
<text transform="translate(345.7 141.90) rotate(0.03)">=</text>
<text transform="translate(357.40 140.50) rotate(0.03)" font-size="13.65">0.005</text>
<text transform="translate(330.1 167.90) rotate(0.03)" font-style="italic">ϵ</text>
<path d="M331.1 161.15 L332.85 158.30 L334.95 161.35 L334.1 161.40 L332.8 159.60 L331.55 161.25 Z" fill="#000"/>
<text transform="translate(335.4 170.10) rotate(0.03)" font-size="9.2" font-style="italic">T</text>
<text transform="translate(345.7 169.30) rotate(0.03)">=</text>
<text transform="translate(358.60 167.90) rotate(0.03)" font-size="13.65">−</text>
<text transform="translate(366.75 167.90) rotate(0.03)" font-size="13.65">0.005</text>
</g>
<!-- x label -->
<g class="sf" font-size="17.5">
<text transform="translate(220.3 250.2) rotate(0.03)" font-style="italic" font-size="18">s</text>
<text transform="translate(231.75 250.55) rotate(0.03)">[GeV]</text>
<path d="M208 243.9 L209.4 242.8 L213.7 253 L218.3 235.2 H226.8" fill="none" stroke="#000" stroke-width="0.85" stroke-linejoin="miter"/>
<path d="M209.6 243.2 L213.5 252.2" fill="none" stroke="#000" stroke-width="1.6"/>
</g>
<!-- y label -->
<g class="sf" font-size="17.5" transform="translate(16.5 125.5) rotate(-90)">
<text transform="translate(0.0 0) scale(0.98 1.08)" font-style="italic">A</text>
<text x="11.6" y="2.5" font-size="11.6">FB</text>
<text x="27.25" y="-0.4">(</text>
<text x="33.8" y="0.7" font-style="italic" font-size="18.5">s</text>
<text x="40.9" y="-0.4">)</text>
</g>
</svg>
</body></html>
